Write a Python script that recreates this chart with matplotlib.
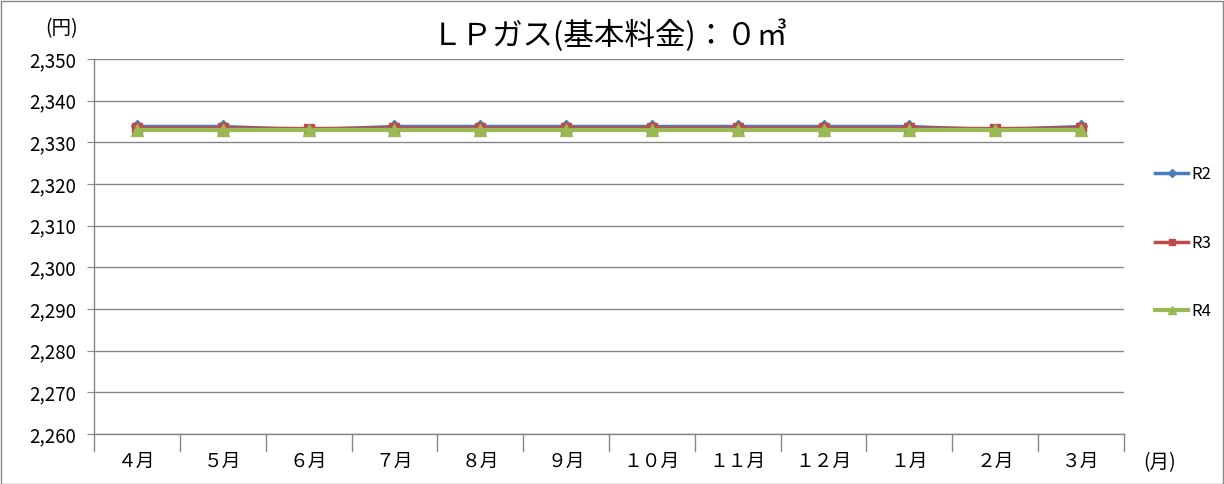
import matplotlib
matplotlib.use("Agg")
import matplotlib.pyplot as plt
from matplotlib.patches import Rectangle

plt.rcParams['font.family'] = ['Noto Sans CJK JP', 'DejaVu Sans']

months = ['４月', '５月', '６月', '７月', '８月', '９月', '１０月', '１１月', '１２月', '１月', '２月', '３月']
r2 = [2333.8, 2333.8, 2333.0, 2333.8, 2333.8, 2333.8, 2333.8, 2333.8, 2333.8, 2333.8, 2333.0, 2333.8]
r3 = [2333.4, 2333.4, 2333.3, 2333.4, 2333.4, 2333.4, 2333.4, 2333.4, 2333.4, 2333.4, 2333.3, 2333.4]
r4 = [2333.0, 2333.0, 2333.0, 2333.0, 2333.0, 2333.0, 2333.0, 2333.0, 2333.0, 2333.0, 2333.0, 2333.0]
series_names = ['R2', 'R3', 'R4']
yticks = list(range(2260, 2351, 10))

W, H = 1224, 484
fig = plt.figure(figsize=(W / 100, H / 100), dpi=100)
ax = fig.add_axes([94 / W, 1 - 434 / H, (1124 - 94) / W, (434 - 59) / H])

x = list(range(len(months)))
ax.plot(x, r2, color='#4a7ebb', lw=2.5, marker='D', ms=6, label=series_names[0], zorder=3)
ax.plot(x, r3, color='#be4b48', lw=2.5, marker='s', ms=7, label=series_names[1], zorder=4)
ax.plot(x, r4, color='#98b954', lw=3, marker='^', ms=8, label=series_names[2], zorder=5)

ax.set_xlim(-0.5, len(months) - 0.5)
ax.set_ylim(2260, 2350)
ax.set_yticks(yticks)
ax.set_yticklabels([f'{v:,}' for v in yticks], fontsize=13.5)
ax.set_xticks(x)
ax.set_xticklabels(months, fontsize=13.5)
ax.tick_params(axis='x', length=0, pad=12)
ax.tick_params(axis='y', length=5, color='#868686', pad=8)
# category boundary ticks
for b in [i - 0.5 for i in range(len(months) + 1)]:
    ax.plot([b, b], [0, -0.045], transform=ax.get_xaxis_transform(), color='#868686', lw=1, clip_on=False)

ax.grid(axis='y', color='#868686', lw=1)
ax.set_axisbelow(True)
for s in ['top', 'right']:
    ax.spines[s].set_visible(False)
for s in ['left', 'bottom']:
    ax.spines[s].set_color('#868686')
    ax.spines[s].set_linewidth(1)

fig.text(62 / W, 1 - 29 / H, '(円)', fontsize=14, ha='center', va='center')
fig.text(1160 / W, 1 - 463 / H, '(月)', fontsize=14, ha='center', va='center')
fig.text(610 / W, 1 - 36 / H, 'ＬＰガス(基本料金)：０㎥', fontsize=22, ha='center', va='center')

leg = fig.legend(loc='center left', bbox_to_anchor=(1140 / W, 1 - 243 / H), frameon=False,
                 fontsize=12, labelspacing=3.1, handlelength=2.0, handletextpad=0.2,
                 markerscale=0.7)

fig.patches.append(Rectangle((0.5 / W, 0.5 / H), 1 - 1.5 / W, 1 - 1.5 / H, transform=fig.transFigure,
                             fill=False, edgecolor='#868686', lw=1))

fig.savefig('out.png', dpi=100)
